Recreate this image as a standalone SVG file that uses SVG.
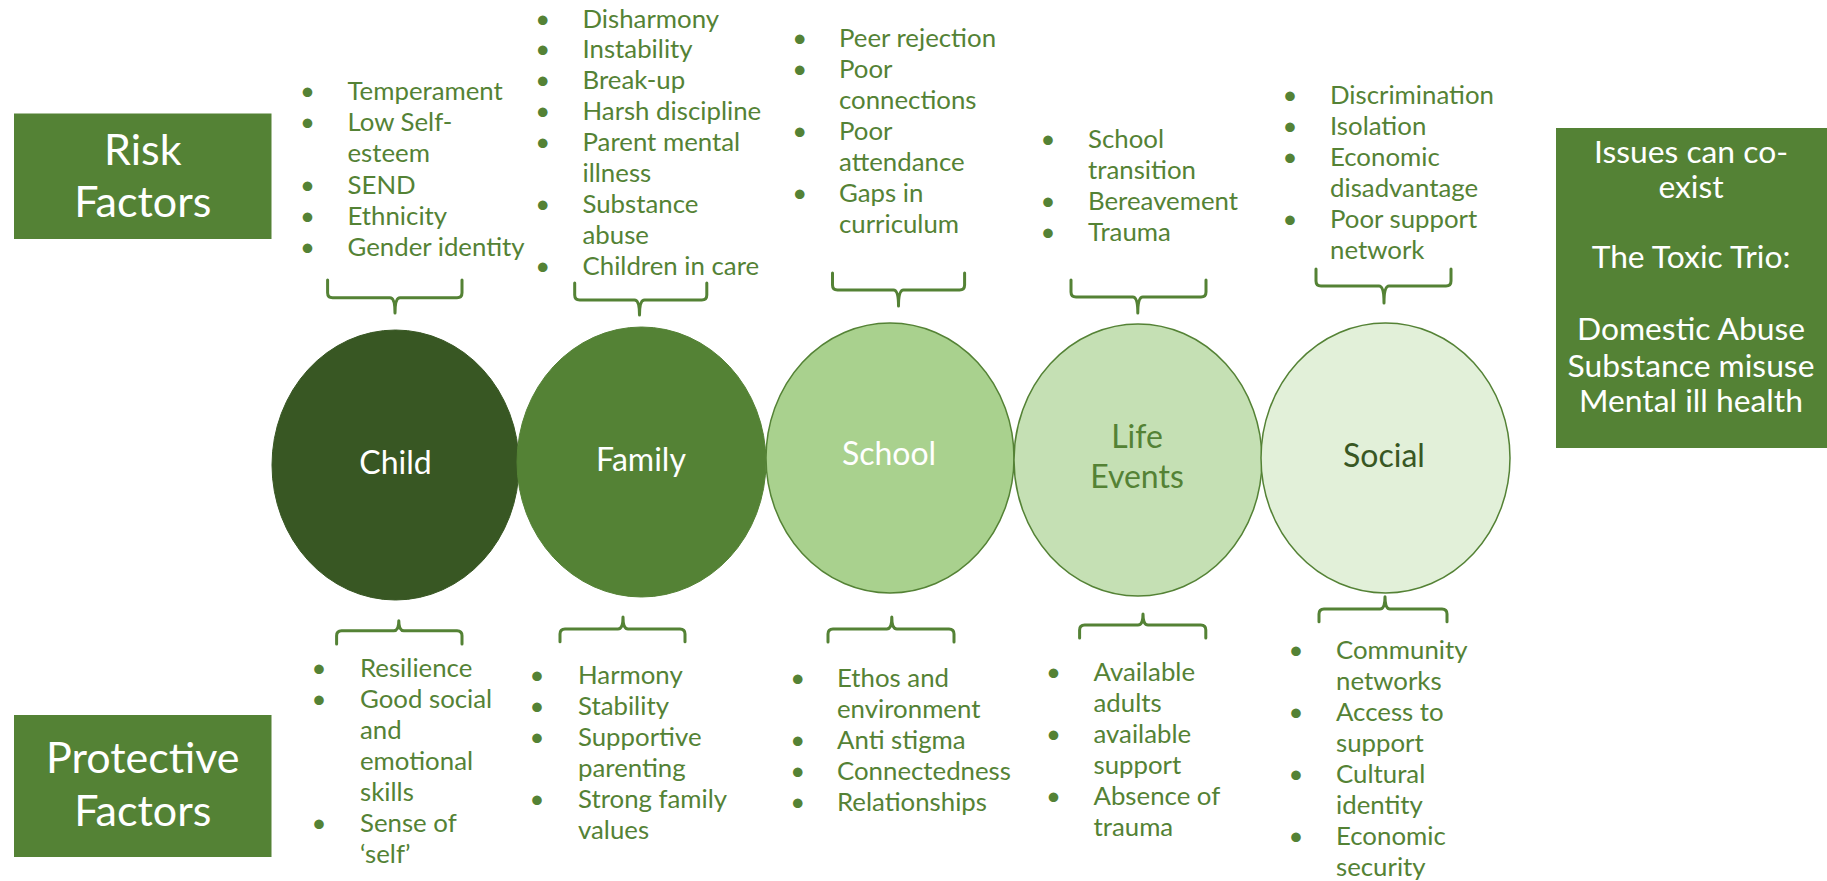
<svg xmlns="http://www.w3.org/2000/svg" width="1827" height="881" viewBox="0 0 1827 881">
<style>
text{font-family:Lato,"Open Sans","Liberation Sans",sans-serif}
.lst{font-size:25.8px;fill:#548235}
.bul{font-size:25.8px;fill:#548235;text-anchor:middle}
.hd{font-size:43px;fill:#fff;text-anchor:middle}
.box{fill:#548235}
.cl{font-size:32px;text-anchor:middle}
.info{font-size:31.8px;fill:#fff;text-anchor:middle}
.br{fill:none;stroke:#548235;stroke-width:3;stroke-linejoin:round;stroke-linecap:round}
.ol{stroke:#548235;stroke-width:1.5}
</style>
<rect width="1827" height="881" fill="#fff"/>

<g id="risk-factors">
<rect class="box" x="14" y="113.5" width="257.5" height="125.5"/>
<text class="hd"><tspan x="142.8" y="165">Risk</tspan><tspan x="142.8" y="217">Factors</tspan></text>
</g>
<g id="protective-factors">
<rect class="box" x="14" y="715" width="257.5" height="142"/>
<text class="hd"><tspan x="142.8" y="773">Protective</tspan><tspan x="142.8" y="826">Factors</tspan></text>
</g>
<g id="toxic-trio">
<rect class="box" x="1556" y="128" width="271" height="320"/>
<text class="info"><tspan x="1691" y="163">Issues can co-</tspan><tspan x="1691" y="198">exist</tspan><tspan x="1691" y="268">The Toxic Trio:</tspan><tspan x="1691" y="340">Domestic Abuse</tspan><tspan x="1691" y="377">Substance misuse</tspan><tspan x="1691" y="412">Mental ill health</tspan></text>
</g>

<g id="child">
<ellipse cx="395.5" cy="465" rx="123.5" ry="135" fill="#385723" stroke="#385723" stroke-width="1"/>
<text class="cl" x="395.5" y="474" fill="#fff">Child</text>
</g>
<g id="family">
<ellipse cx="641.5" cy="462" rx="124.5" ry="135" fill="#548235" stroke="#548235" stroke-width="1"/>
<text class="cl" x="641" y="471" fill="#fff">Family</text>
</g>
<g id="school">
<ellipse class="ol" cx="890" cy="458" rx="124" ry="135" fill="#A9D18E"/>
<text class="cl" x="889" y="465" fill="#fff">School</text>
</g>
<g id="life-events">
<ellipse class="ol" cx="1138" cy="460" rx="124" ry="136" fill="#C5E0B4"/>
<text class="cl" fill="#548235"><tspan x="1137" y="448">Life</tspan><tspan x="1137" y="488">Events</tspan></text>
</g>
<g id="social">
<ellipse class="ol" cx="1385.5" cy="458" rx="124.5" ry="135" fill="#E2F0D9"/>
<text class="cl" x="1384" y="467" fill="#385723">Social</text>
</g>

<g id="child-risks">
<text class="bul"><tspan x="307.4" y="100">•</tspan><tspan x="307.4" y="131">•</tspan><tspan x="307.4" y="194">•</tspan><tspan x="307.4" y="225">•</tspan><tspan x="307.4" y="256">•</tspan></text>
<text class="lst"><tspan x="347.5" y="100">Temperament</tspan><tspan x="347.5" y="131">Low Self-</tspan><tspan x="347.5" y="162">esteem</tspan><tspan x="347.5" y="194">SEND</tspan><tspan x="347.5" y="225">Ethnicity</tspan><tspan x="347.5" y="256">Gender identity</tspan></text>
</g>
<g id="family-risks">
<text class="bul"><tspan x="542.8" y="27.5">•</tspan><tspan x="542.8" y="58.4">•</tspan><tspan x="542.8" y="89.3">•</tspan><tspan x="542.8" y="120.2">•</tspan><tspan x="542.8" y="151">•</tspan><tspan x="542.8" y="213">•</tspan><tspan x="542.8" y="275">•</tspan></text>
<text class="lst"><tspan x="582.5" y="27.5">Disharmony</tspan><tspan x="582.5" y="58.4">Instability</tspan><tspan x="582.5" y="89.3">Break-up</tspan><tspan x="582.5" y="120.2">Harsh discipline</tspan><tspan x="582.5" y="151">Parent mental</tspan><tspan x="582.5" y="182">illness</tspan><tspan x="582.5" y="213">Substance</tspan><tspan x="582.5" y="244">abuse</tspan><tspan x="582.5" y="275">Children in care</tspan></text>
</g>
<g id="school-risks">
<text class="bul"><tspan x="799.7" y="47">•</tspan><tspan x="799.7" y="78">•</tspan><tspan x="799.7" y="140">•</tspan><tspan x="799.7" y="202">•</tspan></text>
<text class="lst"><tspan x="839" y="47">Peer rejection</tspan><tspan x="839" y="78">Poor</tspan><tspan x="839" y="109">connections</tspan><tspan x="839" y="140">Poor</tspan><tspan x="839" y="171">attendance</tspan><tspan x="839" y="202">Gaps in</tspan><tspan x="839" y="233">curriculum</tspan></text>
</g>
<g id="life-events-risks">
<text class="bul"><tspan x="1048" y="148">•</tspan><tspan x="1048" y="210">•</tspan><tspan x="1048" y="241">•</tspan></text>
<text class="lst"><tspan x="1088" y="148">School</tspan><tspan x="1088" y="179">transition</tspan><tspan x="1088" y="210">Bereavement</tspan><tspan x="1088" y="241">Trauma</tspan></text>
</g>
<g id="social-risks">
<text class="bul"><tspan x="1290" y="104">•</tspan><tspan x="1290" y="135">•</tspan><tspan x="1290" y="166">•</tspan><tspan x="1290" y="228">•</tspan></text>
<text class="lst"><tspan x="1330" y="104">Discrimination</tspan><tspan x="1330" y="135">Isolation</tspan><tspan x="1330" y="166">Economic</tspan><tspan x="1330" y="197">disadvantage</tspan><tspan x="1330" y="228">Poor support</tspan><tspan x="1330" y="259">network</tspan></text>
</g>

<g id="child-protective">
<text class="bul"><tspan x="319" y="677">•</tspan><tspan x="319" y="708">•</tspan><tspan x="319" y="832">•</tspan></text>
<text class="lst"><tspan x="360" y="677">Resilience</tspan><tspan x="360" y="708">Good social</tspan><tspan x="360" y="739">and</tspan><tspan x="360" y="770">emotional</tspan><tspan x="360" y="801">skills</tspan><tspan x="360" y="832">Sense of</tspan><tspan x="360" y="863">‘self’</tspan></text>
</g>
<g id="family-protective">
<text class="bul"><tspan x="537" y="684">•</tspan><tspan x="537" y="715">•</tspan><tspan x="537" y="746">•</tspan><tspan x="537" y="808">•</tspan></text>
<text class="lst"><tspan x="578" y="684">Harmony</tspan><tspan x="578" y="715">Stability</tspan><tspan x="578" y="746">Supportive</tspan><tspan x="578" y="777">parenting</tspan><tspan x="578" y="808">Strong family</tspan><tspan x="578" y="839">values</tspan></text>
</g>
<g id="school-protective">
<text class="bul"><tspan x="797.7" y="687">•</tspan><tspan x="797.7" y="749">•</tspan><tspan x="797.7" y="780">•</tspan><tspan x="797.7" y="811">•</tspan></text>
<text class="lst"><tspan x="837" y="687">Ethos and</tspan><tspan x="837" y="718">environment</tspan><tspan x="837" y="749">Anti stigma</tspan><tspan x="837" y="780">Connectedness</tspan><tspan x="837" y="811">Relationships</tspan></text>
</g>
<g id="life-events-protective">
<text class="bul"><tspan x="1053.5" y="681">•</tspan><tspan x="1053.5" y="743">•</tspan><tspan x="1053.5" y="805">•</tspan></text>
<text class="lst"><tspan x="1093.5" y="681">Available</tspan><tspan x="1093.5" y="712">adults</tspan><tspan x="1093.5" y="743">available</tspan><tspan x="1093.5" y="774">support</tspan><tspan x="1093.5" y="805">Absence of</tspan><tspan x="1093.5" y="836">trauma</tspan></text>
</g>
<g id="social-protective">
<text class="bul"><tspan x="1296" y="659">•</tspan><tspan x="1296" y="721">•</tspan><tspan x="1296" y="783">•</tspan><tspan x="1296" y="845">•</tspan></text>
<text class="lst"><tspan x="1336" y="659">Community</tspan><tspan x="1336" y="690">networks</tspan><tspan x="1336" y="721">Access to</tspan><tspan x="1336" y="752">support</tspan><tspan x="1336" y="783">Cultural</tspan><tspan x="1336" y="814">identity</tspan><tspan x="1336" y="845">Economic</tspan><tspan x="1336" y="876">security</tspan></text>
</g>

<g id="connectors">
<path class="br" d="M327.6,280 V292.7 Q327.6,297.7 332.6,297.7 H390 Q395,297.7 395,313 Q395,297.7 400,297.7 H457 Q462,297.7 462,292.7 V280"/>
<path class="br" d="M574.7,283 V295 Q574.7,300 579.7,300 H634.5 Q639.5,300 639.5,315 Q639.5,300 644.5,300 H701.8 Q706.8,300 706.8,295 V283"/>
<path class="br" d="M832.5,273 V285 Q832.5,290 837.5,290 H893.5 Q898.5,290 898.5,306 Q898.5,290 903.5,290 H959.6 Q964.6,290 964.6,285 V273"/>
<path class="br" d="M1071,280 V292 Q1071,297 1076,297 H1132.8 Q1137.8,297 1137.8,313 Q1137.8,297 1142.8,297 H1201 Q1206,297 1206,292 V280"/>
<path class="br" d="M1316,269 V281 Q1316,286 1321,286 H1379 Q1384,286 1384,303 Q1384,286 1389,286 H1446 Q1451,286 1451,281 V269"/>
<path class="br" d="M336.6,644 V635.7 Q336.6,630.7 341.6,630.7 H393.8 Q398.8,630.7 398.8,620.7 Q398.8,630.7 403.8,630.7 H457 Q462,630.7 462,635.7 V644"/>
<path class="br" d="M560,641.7 V634 Q560,629 565,629 H618 Q623,629 623,617 Q623,629 628,629 H680 Q685,629 685,634 V641.7"/>
<path class="br" d="M828,642 V634 Q828,629 833,629 H886.8 Q891.8,629 891.8,617 Q891.8,629 896.8,629 H949 Q954,629 954,634 V642"/>
<path class="br" d="M1079.6,638 V630 Q1079.6,625 1084.6,625 H1138 Q1143,625 1143,614 Q1143,625 1148,625 H1200.8 Q1205.8,625 1205.8,630 V638"/>
<path class="br" d="M1319,621.7 V614 Q1319,609 1324,609 H1380 Q1385,609 1385,596.7 Q1385,609 1390,609 H1442 Q1447,609 1447,614 V621.7"/>
</g>
</svg>
